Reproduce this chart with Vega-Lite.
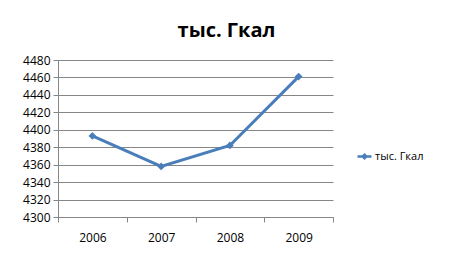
{
  "$schema": "https://vega.github.io/schema/vega-lite/v6.json",
  "width": 275,
  "height": 157,
  "autosize": {"type": "none"},
  "padding": {"left": 58, "top": 60, "right": 119, "bottom": 49},
  "background": "white",
  "title": {
    "text": "тыс. Гкал",
    "font": "Open Sans",
    "fontSize": 20,
    "fontWeight": "bold",
    "color": "#000000",
    "anchor": "middle",
    "dx": 31,
    "baseline": "bottom",
    "offset": -7
  },
  "data": {
    "values": [
      {"year": "2006", "value": 4393, "series": "тыс. Гкал"},
      {"year": "2007", "value": 4358, "series": "тыс. Гкал"},
      {"year": "2008", "value": 4382, "series": "тыс. Гкал"},
      {"year": "2009", "value": 4461, "series": "тыс. Гкал"}
    ]
  },
  "mark": {
    "type": "line",
    "strokeWidth": 3,
    "point": {"shape": "diamond", "size": 60, "filled": true}
  },
  "encoding": {
    "x": {
      "field": "year",
      "type": "ordinal",
      "scale": {"type": "band", "paddingInner": 0, "paddingOuter": 0},
      "axis": {
        "title": null,
        "labelAngle": 0,
        "tickBand": "extent",
        "tickSize": 5,
        "labelPadding": 10,
        "grid": false
      }
    },
    "y": {
      "field": "value",
      "type": "quantitative",
      "scale": {"domain": [4300, 4480], "nice": false, "zero": false},
      "axis": {
        "title": null,
        "format": "d",
        "values": [4300, 4320, 4340, 4360, 4380, 4400, 4420, 4440, 4460, 4480],
        "tickSize": 5,
        "labelPadding": 3,
        "grid": true
      }
    },
    "color": {
      "field": "series",
      "type": "nominal",
      "scale": {"range": ["#4A7EBB"]},
      "legend": {
        "title": null,
        "orient": "none",
        "legendX": 298,
        "legendY": 88,
        "symbolType": "M-1,0L1,0M0,-0.25L0.25,0L0,0.25L-0.25,0Z",
        "symbolSize": 196,
        "symbolStrokeWidth": 2.5,
        "symbolFillColor": "#4A7EBB",
        "symbolStrokeColor": "#4A7EBB",
        "labelFont": "Open Sans",
        "labelFontSize": 11,
        "labelColor": "#000000",
        "labelOffset": 2
      }
    }
  },
  "config": {
    "view": {"stroke": null},
    "axis": {
      "labelFont": "Open Sans",
      "labelFontSize": 12,
      "labelColor": "#000000",
      "domainColor": "#868686",
      "tickColor": "#868686",
      "gridColor": "#868686",
      "domainWidth": 1,
      "gridWidth": 1,
      "tickWidth": 1
    }
  }
}
